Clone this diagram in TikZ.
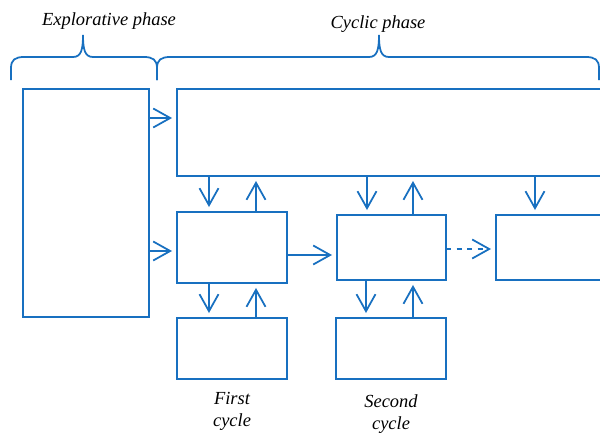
\documentclass[tikz,border=0pt]{standalone}
\usepackage{fontspec}
\setmainfont{Liberation Serif}
\usepackage{tikz}
\usetikzlibrary{positioning,arrows.meta}
\definecolor{azul}{RGB}{24,112,192}

\begin{document}
\begin{tikzpicture}[
  x=0.02cm, y=-0.02cm,
  caja/.style={draw=azul, line width=1pt, inner sep=0pt, outer sep=0pt,
    minimum width=#1},
  flecha/.style={draw=azul, line width=1pt,
    -{Straight Barb[length=0.34cm,width=0.38cm]}, shorten >=0.1cm},
  llave/.style={draw=azul, line width=1pt},
  fase/.style={font=\fontsize{10.5}{12.5}\selectfont\itshape, align=center,
    inner sep=0pt},
]
  \useasboundingbox (0,0) rectangle (600,433);
  \clip (0,0) rectangle (600,433);
  % ---- Fase exploratoria y bloque superior ----
  \node[caja=2.52cm, minimum height=4.56cm] (explo) at (86,203) {};
  \node[caja=8.86cm, minimum height=1.74cm] (top) at (398.5,132.5) {};
  % ---- Ciclos ----
  \node[caja=2.2cm, minimum height=1.42cm] (c1) at (232,247.5) {};
  \node[caja=2.18cm, minimum height=1.3cm] (c2) at (391.5,247.5) {};
  \node[caja=2.48cm, minimum height=1.3cm] (c3) at (558,247.5) {};
  \node[caja=2.2cm, minimum height=1.22cm] (r1) at (232,348.5) {};
  \node[caja=2.2cm, minimum height=1.22cm] (r2) at (391,348.5) {};
  % ---- Llaves ----
  \foreach \a/\m/\b in {11/83/157, 157/379/599}
    \draw[llave] (\a,80) -- (\a,68) .. controls (\a,60) and ({\a+4},57) ..
      ({\a+13},57) -- ({\m-10},57) .. controls ({\m-2},57) and (\m,50) ..
      (\m,35) .. controls (\m,50) and ({\m+2},57) .. ({\m+10},57) --
      ({\b-13},57) .. controls ({\b-4},57) and (\b,60) .. (\b,68) -- (\b,80);
  \node[fase] (lexp) at (109,21) {Explorative phase};
  \node[fase] (lcic) at (378,24) {Cyclic phase};
  \node[fase] (l1) at (232,411) {First\\cycle};
  \node[fase] (l2) at (391,414) {Second\\cycle};
  % ---- Flechas ----
  \draw[flecha] (explo.east |- 0,118) -- (top.west |- 0,118);
  \draw[flecha] (explo.east |- 0,251) -- (c1.west |- 0,251);
  \draw[flecha] (209,0 |- top.south) -- (209,0 |- c1.north);
  \draw[flecha] (256,0 |- c1.north) -- (256,0 |- top.south);
  \draw[flecha] (367,0 |- top.south) -- (367,0 |- c2.north);
  \draw[flecha] (413,0 |- c2.north) -- (413,0 |- top.south);
  \draw[flecha] (535,0 |- top.south) -- (535,0 |- c3.north);
  \draw[flecha] (c1.east |- 0,255) -- (c2.west |- 0,255);
  \draw[flecha, dashed] (c2.east |- 0,249) -- (c3.west |- 0,249);
  \draw[flecha] (209,0 |- c1.south) -- (209,0 |- r1.north);
  \draw[flecha] (256,0 |- r1.north) -- (256,0 |- c1.south);
  \draw[flecha] (366,0 |- c2.south) -- (366,0 |- r2.north);
  \draw[flecha] (413,0 |- r2.north) -- (413,0 |- c2.south);
\end{tikzpicture}
\end{document}
